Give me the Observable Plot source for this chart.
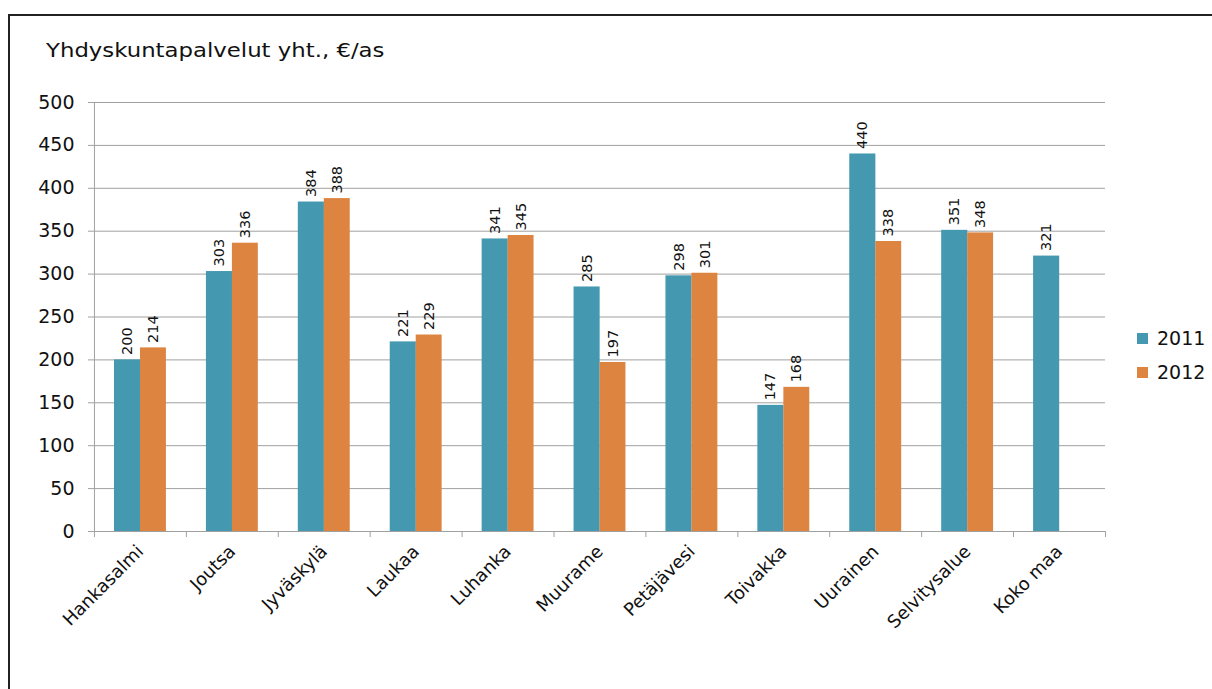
<!DOCTYPE html>
<html>
<head>
<meta charset="utf-8">
<script src="https://cdn.jsdelivr.net/npm/d3@7"></script>
<script src="https://cdn.jsdelivr.net/npm/@observablehq/plot@0.6"></script>
<style>
  html, body { margin: 0; padding: 0; background: #fff; overflow: hidden; }
  #wrap { position: relative; width: 1212px; height: 689px; font-family: "DejaVu Sans", sans-serif; }
  #frame { position: absolute; left: 8px; top: 14px; width: 1300px; height: 800px; border: 2px solid #222; box-sizing: border-box; }
  #title { position: absolute; left: 46px; top: 38px; font-size: 20px; color: #111; white-space: nowrap; transform: scaleX(1.14); transform-origin: left center; }
  #legend { position: absolute; left: 1137px; top: 321px; font-size: 19px; color: #111; }
  .li { display: flex; align-items: center; height: 34px; }
  .sw { width: 11px; height: 11px; margin-right: 9px; }
  #chart { position: absolute; left: 0; top: 0; }
</style>
</head>
<body>
<div id="wrap">
  <div id="frame"></div>
  <div id="chart"></div>
  <div id="title">Yhdyskuntapalvelut yht., €/as</div>
  <div id="legend"></div>
</div>
<script>
const categories = ["Hankasalmi", "Joutsa", "Jyväskylä", "Laukaa", "Luhanka", "Muurame", "Petäjävesi", "Toivakka", "Uurainen", "Selvitysalue", "Koko maa"];
const values2011 = [200, 303, 384, 221, 341, 285, 298, 147, 440, 351, 321];
const values2012 = [214, 336, 388, 229, 345, 197, 301, 168, 338, 348, null];
const series = ["2011", "2012"];
const colors = ["#4499b0", "#dd8440"];
const yTicks = [0, 50, 100, 150, 200, 250, 300, 350, 400, 450, 500];

const d2011 = categories.map((c, i) => ({cat: c, v: values2011[i]}));
const d2012 = categories.map((c, i) => ({cat: c, v: values2012[i]})).filter(d => d.v != null);

const gridColor = "#a0a0a0";
const chart = Plot.plot({
  width: 1212,
  height: 689,
  marginLeft: 94,
  marginRight: 107,
  marginTop: 102,
  marginBottom: 158,
  style: {fontFamily: "DejaVu Sans, sans-serif", background: "transparent", color: "#111"},
  x: {domain: categories, padding: 0, round: false},
  y: {domain: [0, 500], nice: false},
  marks: [
    Plot.ruleY(yTicks, {stroke: gridColor}),
    Plot.ruleX(categories.slice(0, 1), {x: d => d, dx: -46, y1: 0, y2: 500, stroke: gridColor}),
    Plot.ruleX(categories, {x: d => d, dx: -46, y1: 0, y2: -7, stroke: gridColor}),
    Plot.ruleX(categories.slice(-1), {x: d => d, dx: 46, y1: 0, y2: -7, stroke: gridColor}),
    Plot.barY(d2011, {x: "cat", y: "v", fill: colors[0], insetLeft: 20, insetRight: 45.8}),
    Plot.barY(d2012, {x: "cat", y: "v", fill: colors[1], insetLeft: 46, insetRight: 20}),
    Plot.text(d2011, {x: "cat", y: "v", text: d => String(d.v), rotate: -90, textAnchor: "start", dx: -13, dy: -5, fontSize: 14.5, fill: "#111"}),
    Plot.text(d2012, {x: "cat", y: "v", text: d => String(d.v), rotate: -90, textAnchor: "start", dx: 13, dy: -5, fontSize: 14.5, fill: "#111"}),
    Plot.axisY({ticks: yTicks, tickSize: 6, tickPadding: 14, stroke: gridColor, fill: "#111", fontSize: 19, label: null}),
    Plot.axisX({tickSize: 0, tickPadding: 17, tickRotate: -45, fontSize: 18, fill: "#111", label: null})
  ]
});
document.getElementById("chart").appendChild(chart);

const legend = document.getElementById("legend");
series.forEach((s, i) => {
  const row = document.createElement("div");
  row.className = "li";
  const sw = document.createElement("div");
  sw.className = "sw";
  sw.style.background = colors[i];
  const t = document.createElement("span");
  t.textContent = s;
  row.appendChild(sw);
  row.appendChild(t);
  legend.appendChild(row);
});
</script>
</body>
</html>
